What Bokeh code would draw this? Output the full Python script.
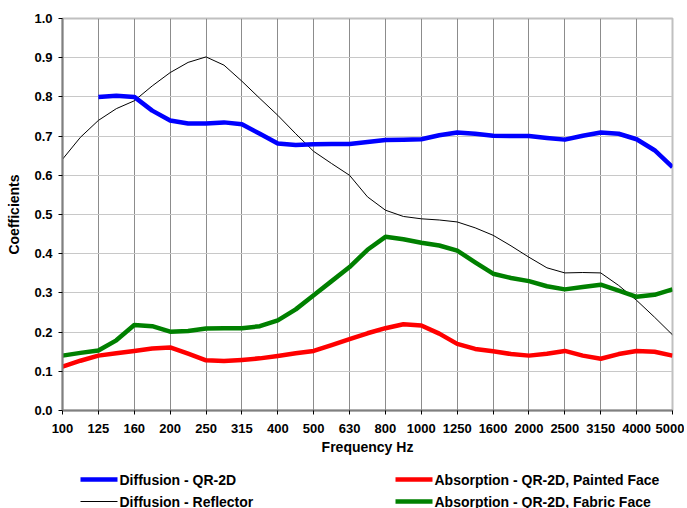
from bokeh.plotting import figure
from bokeh.models import Range1d, FixedTicker
from bokeh.layouts import column
from bokeh.core.properties import value
from bokeh.embed import file_html
from bokeh.resources import INLINE

# ---- data ----
bands = ["100", "125", "160", "200", "250", "315", "400", "500", "630", "800",
         "1000", "1250", "1600", "2000", "2500", "3150", "4000", "5000"]
# values read at every half band position (0, 0.5, 1, ... 17)
half_pos = [i * 0.5 for i in range(35)]

reflector = [0.641, 0.697, 0.740, 0.770, 0.790, 0.828, 0.862, 0.888, 0.902, 0.881,
             0.840, 0.796, 0.753, 0.706, 0.661, 0.630, 0.600, 0.545, 0.511, 0.495,
             0.489, 0.486, 0.481, 0.466, 0.447, 0.420, 0.391, 0.364, 0.351, 0.352,
             0.351, 0.319, 0.281, 0.238, 0.193]

qr2d_pos = half_pos[2:]
qr2d = [0.800, 0.803, 0.800, 0.765, 0.740, 0.732, 0.732, 0.735, 0.730, 0.706,
        0.681, 0.677, 0.679, 0.680, 0.680, 0.685, 0.690, 0.691, 0.692, 0.702,
        0.709, 0.706, 0.701, 0.700, 0.700, 0.695, 0.691, 0.701, 0.709, 0.706,
        0.692, 0.664, 0.621]

painted = [0.112, 0.127, 0.140, 0.146, 0.152, 0.158, 0.161, 0.145, 0.128, 0.126,
           0.129, 0.133, 0.139, 0.146, 0.152, 0.167, 0.182, 0.197, 0.210, 0.220,
           0.217, 0.196, 0.170, 0.157, 0.151, 0.144, 0.140, 0.145, 0.152, 0.140,
           0.132, 0.144, 0.152, 0.150, 0.140]

fabric = [0.140, 0.147, 0.153, 0.179, 0.218, 0.215, 0.201, 0.203, 0.209, 0.210,
          0.210, 0.215, 0.230, 0.258, 0.294, 0.330, 0.366, 0.410, 0.443, 0.437,
          0.428, 0.421, 0.408, 0.378, 0.349, 0.338, 0.330, 0.317, 0.309, 0.315,
          0.321, 0.306, 0.290, 0.295, 0.309]

y_ticks = [round(i * 0.1, 1) for i in range(11)]

series_names = ["Diffusion - QR-2D", "Diffusion - Reflector",
                "Absorption - QR-2D, Painted Face", "Absorption - QR-2D, Fabric Face"]

FONT = "Liberation Sans"
W = 684
LEFT, RIGHT = 62, 12

# ---- main chart ----
p = figure(width=W, height=468, output_backend="svg", toolbar_location=None,
           x_range=Range1d(0, 17), y_range=Range1d(0, 1.0),
           min_border_left=LEFT, min_border_right=RIGHT, min_border_top=18,
           min_border_bottom=58)
p.background_fill_color = "white"
p.outline_line_color = "#c0c0c0"
p.outline_line_width = 2

p.xaxis.ticker = FixedTicker(ticks=list(range(len(bands))))
p.xaxis.major_label_overrides = {i: b for i, b in enumerate(bands)}
p.yaxis.ticker = FixedTicker(ticks=y_ticks)
p.yaxis.major_label_overrides = {t: f"{t:.1f}" for t in y_ticks}

for ax in (p.xaxis, p.yaxis):
    ax.axis_line_color = "#808080"
    ax.axis_line_width = 2
    ax.major_tick_line_color = "black"
    ax.major_tick_in = 0
    ax.major_tick_out = 4
    ax.minor_tick_line_color = None
    ax.major_label_text_font = FONT
    ax.major_label_text_font_style = "bold"
    ax.major_label_text_font_size = "13px"
    ax.major_label_text_color = "black"
    ax.axis_label_text_font = FONT
    ax.axis_label_text_font_style = "bold"
    ax.axis_label_text_font_size = "14px"
    ax.axis_label_text_color = "black"

p.xaxis.axis_label = "Frequency Hz"
p.xaxis.major_label_standoff = 9
p.xaxis.axis_label_standoff = 3
p.yaxis.axis_label = "Coefficients"
p.yaxis.major_label_standoff = 6
p.yaxis.axis_label_standoff = 9

p.xgrid.ticker = FixedTicker(ticks=list(range(len(bands))))
p.xgrid.grid_line_color = "#8c8c8c"
p.xgrid.grid_line_width = 1
p.ygrid.ticker = FixedTicker(ticks=y_ticks)
p.ygrid.grid_line_color = "#c8c8c8"
p.ygrid.grid_line_width = 1

p.line(half_pos, reflector, line_color="black", line_width=1)
p.line(half_pos, fabric, line_color="#008000", line_width=4.5, line_join="round")
p.line(half_pos, painted, line_color="#ff0000", line_width=4.5, line_join="round")
p.line(qr2d_pos, qr2d, line_color="#0000ff", line_width=4.5, line_join="round")

# ---- legend strip (x range in page pixels, frame aligned with main chart) ----
lg = figure(width=W, height=40, output_backend="svg", toolbar_location=None,
            x_range=Range1d(LEFT, W - RIGHT), y_range=Range1d(40, 0),
            x_axis_type=None, y_axis_type=None,
            min_border_left=LEFT, min_border_right=RIGHT,
            min_border_top=0, min_border_bottom=0)
lg.outline_line_color = None
lg.xgrid.visible = False
lg.ygrid.visible = False

leg_colors = ["#0000ff", "black", "#ff0000", "#008000"]
leg_widths = [4.5, 1, 4.5, 4.5]
leg_x0 = [80, 80, 395, 395]
leg_y = [11, 33, 11, 33]
for name, c, w, x0, y in zip(series_names, leg_colors, leg_widths, leg_x0, leg_y):
    lg.line([x0, x0 + 37], [y, y], line_color=c, line_width=w)
    lg.text([x0 + 39], [y], text=[name], text_font=value(FONT), text_font_style="bold",
            text_font_size="14px", text_baseline="middle", text_align="left",
            text_color="black")

layout = column(p, lg, spacing=0)
open("out.html", "w").write(file_html(layout, INLINE))
